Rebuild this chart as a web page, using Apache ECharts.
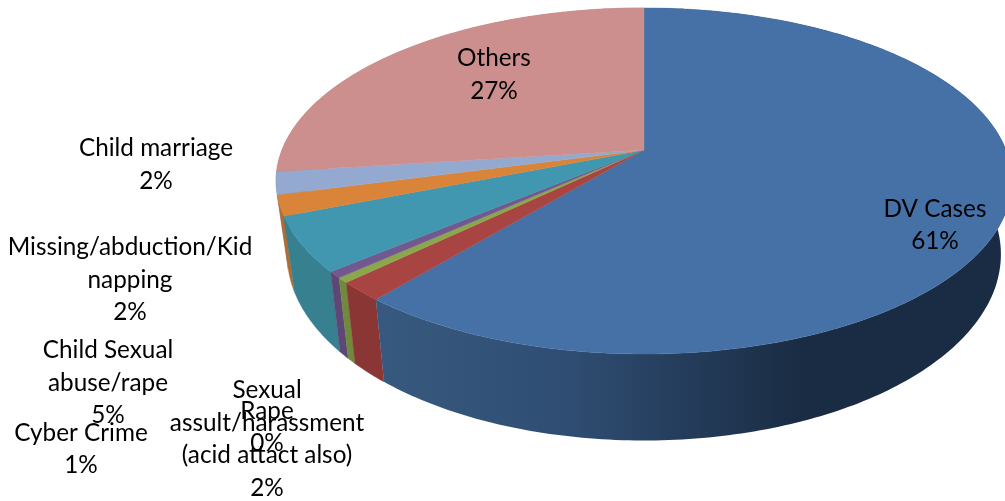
<!DOCTYPE html>
<html><head><meta charset="utf-8">
<style>html,body{margin:0;padding:0;background:#fff}#c{width:1005px;height:501px}</style>
<script src="https://cdn.jsdelivr.net/npm/echarts@6/dist/echarts.min.js"></script>
</head><body><div id="c"></div>
<script>
const categories = ['DV Cases','Sexual\nassult/harassment\n(acid attact also)','Rape','Cyber Crime','Child Sexual\nabuse/rape','Missing/abduction/Kid\nnapping','Child marriage','Others'];
const values = [61, 1.78, 0.48, 0.6, 5.1, 1.9, 2.1, 27];
const percentLabels = ['61%','2%','0%','1%','5%','2%','2%','27%'];
const topColors = ['#4571a7','#a84442','#8aa84b','#71588f','#4097af','#d98438','#93a9cf','#cd8f8d'];
const wallColors = ['#345680','#8a3634','#70893d','#5c4775','#37808f','#b26c2d','#7a8cab','#a87573'];
const labelCenters = [[935,225],[267,439],[267,427],[81,449],[108,383],[130,280],[156,164.5],[494,74.5]];

// projection of the tilted pie
const CX = 644, CY = 150, RX = 362, RY = 167.5, PERSP = 0.179, DEPTH = 71, BASE_SCALE = 0.97;
function project(frac, down) {
  const t = frac * 2 * Math.PI, X = Math.sin(t), Y = Math.cos(t), w = 1 + PERSP * Y;
  const s = down ? BASE_SCALE : 1;
  return [CX + s * RX * X / w, CY + (-RY * Y + (down ? DEPTH : 0)) / w];
}
function arc(a, b, down) {
  const n = Math.max(4, Math.ceil((b - a) * 400)), pts = [];
  for (let i = 0; i <= n; i++) pts.push(project(a + (b - a) * i / n, down));
  return pts;
}
const total = values.reduce((s, v) => s + v, 0);
let acc = 0;
const sliceRows = values.map((v, i) => { const r = [acc / total, (acc + v) / total, i]; acc += v; return r; });

const dvWall = new echarts.graphic.LinearGradient(380, 0, 800, 0, [
  {offset: 0, color: '#38597f'}, {offset: 0.45, color: '#2f4d72'}, {offset: 1, color: '#1a2c44'}
], true);

const option = {
  animation: false,
  backgroundColor: '#fff',
  series: [
    { type: 'custom', coordinateSystem: 'none', z: 1, silent: true,
      data: sliceRows.slice().reverse(),
      renderItem(params, api) {
        const a = api.value(0), b = api.value(1), i = api.value(2);
        const pts = arc(a, b, false).concat(arc(a, b, true).reverse());
        const fill = i === 0 ? dvWall : wallColors[i];
        return { type: 'polygon', shape: { points: pts },
          style: { fill, stroke: i === 0 ? null : wallColors[i], lineWidth: 0.4 } };
      } },
    { type: 'custom', coordinateSystem: 'none', z: 2, silent: true,
      data: sliceRows,
      renderItem(params, api) {
        const a = api.value(0), b = api.value(1), i = api.value(2);
        const pts = [[CX, CY]].concat(arc(a, b, false));
        return { type: 'polygon', shape: { points: pts },
          style: { fill: topColors[i], stroke: topColors[i], lineWidth: 0.4 } };
      } },
    { type: 'custom', coordinateSystem: 'none', z: 3, silent: true,
      data: sliceRows,
      renderItem(params, api) {
        const i = api.value(2), c = labelCenters[i];
        return { type: 'text', x: c[0], y: c[1],
          style: { text: categories[i] + '\n' + percentLabels[i], fill: '#000',
            font: '24.3px Lato', lineHeight: 32.5, align: 'center', verticalAlign: 'middle' } };
      } }
  ]
};
echarts.init(document.getElementById('c'), null, {renderer: 'canvas'}).setOption(option);
</script></body></html>
